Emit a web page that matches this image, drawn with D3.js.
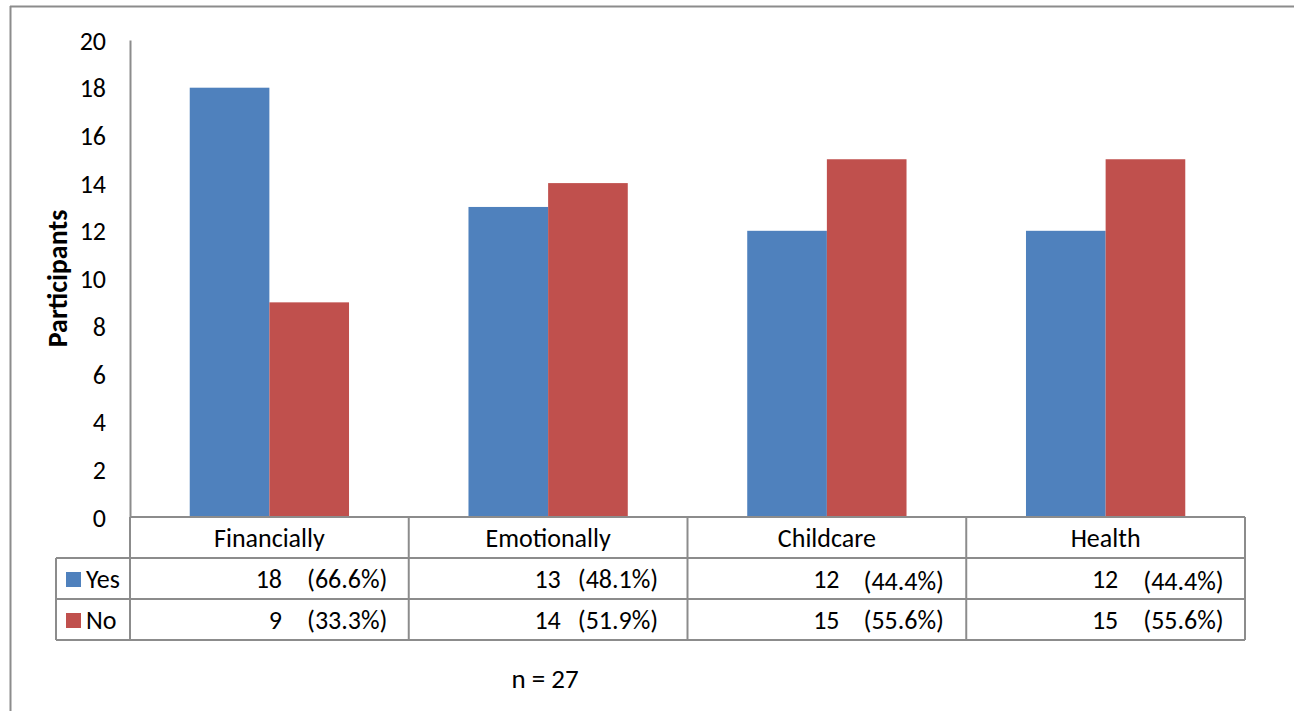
<!DOCTYPE html>
<html><head><meta charset="utf-8">
<script src="https://cdn.jsdelivr.net/npm/d3@7"></script>
<style>body{margin:0;background:#fff}svg{display:block}text{font-family:Carlito,Lato,"Open Sans",sans-serif}</style>
</head><body><svg id="c" width="1294" height="711"></svg>
<script>
const categories = ["Financially","Emotionally","Childcare","Health"];
const seriesNames = ["Yes","No"];
const yesValues = [18,13,12,12];
const noValues = [9,14,15,15];
const yesPct = ["(66.6%)","(48.1%)","(44.4%)","(44.4%)"];
const noPct = ["(33.3%)","(51.9%)","(55.6%)","(55.6%)"];
const yTicks = [0,2,4,6,8,10,12,14,16,18,20];
const colors = ["#4F81BD","#C0504D"];
const pctGap = [25,17,24,25];

const FS = 26;
const svg = d3.select("#c");
const grey = "#8c8c8c";
const L = 130, R = 1245, T = 40, B = 517;
const rowH = 41;

// outer frame
svg.append("line").attr("x1",10.5).attr("x2",10.5).attr("y1",6).attr("y2",711).attr("stroke",grey).attr("stroke-width",2);
svg.append("line").attr("x1",10).attr("x2",1294).attr("y1",6.5).attr("y2",6.5).attr("stroke",grey).attr("stroke-width",2);

const x = d3.scaleBand().domain(categories).range([L,R]).paddingInner(0).paddingOuter(0);
const y = d3.scaleLinear().domain([0,20]).range([B,T]);
const xs = d3.scaleBand().domain(seriesNames).range([0,x.bandwidth()]).paddingInner(0).paddingOuter(0.75);

const series = [yesValues,noValues];
series.forEach((vals,si)=>{
  svg.append("g").selectAll("rect").data(categories).join("rect")
    .attr("x",c=>x(c)+xs(seriesNames[si]))
    .attr("width",xs.bandwidth())
    .attr("y",(c,i)=>y(vals[i]))
    .attr("height",(c,i)=>B-y(vals[i]))
    .attr("fill",colors[si]);
});

// y axis
const yAxis = d3.axisLeft(y).tickValues(yTicks).tickSize(0).tickPadding(24);
const ga = svg.append("g").attr("transform",`translate(${L},0)`).call(yAxis);
ga.select(".domain").attr("stroke",grey).attr("stroke-width",2);
ga.selectAll("text").attr("font-size",FS).attr("fill","#000").attr("dy","0.35em").style("font-family","Carlito,Lato,sans-serif");

svg.append("text").attr("transform",`translate(67,${(T+B)/2}) rotate(-90)`)
  .attr("text-anchor","middle").attr("font-size",28).attr("font-weight","bold").text("Participants");

// table
const tb = svg.append("g").attr("stroke",grey).attr("stroke-width",2).attr("fill","none");
tb.append("line").attr("x1",L).attr("x2",R).attr("y1",B).attr("y2",B);
tb.append("line").attr("x1",56).attr("x2",R).attr("y1",B+rowH).attr("y2",B+rowH);
tb.append("line").attr("x1",56).attr("x2",R).attr("y1",B+2*rowH).attr("y2",B+2*rowH);
tb.append("line").attr("x1",56).attr("x2",R).attr("y1",B+3*rowH).attr("y2",B+3*rowH);
tb.append("line").attr("x1",56).attr("x2",56).attr("y1",B+rowH).attr("y2",B+3*rowH);
categories.forEach(c=>{
  tb.append("line").attr("x1",x(c)).attr("x2",x(c)).attr("y1",B).attr("y2",B+3*rowH);
});
tb.append("line").attr("x1",R).attr("x2",R).attr("y1",B).attr("y2",B+3*rowH);

// category labels
svg.append("g").selectAll("text").data(categories).join("text")
  .attr("x",c=>x(c)+x.bandwidth()/2).attr("y",B+rowH/2+9)
  .attr("text-anchor","middle").attr("font-size",FS).text(c=>c);

// legend cells
seriesNames.forEach((s,si)=>{
  const yy = B+rowH*(si+1);
  svg.append("rect").attr("x",66).attr("y",yy+14).attr("width",15).attr("height",15).attr("fill",colors[si]);
  svg.append("text").attr("x",86).attr("y",yy+rowH/2+9).attr("font-size",FS).text(s);
});

// values
const pcts = [yesPct,noPct];
series.forEach((vals,si)=>{
  const yy = B+rowH*(si+1)+rowH/2+9;
  categories.forEach((c,i)=>{
    svg.append("text").attr("x",x(c)+152).attr("y",yy).attr("text-anchor","end").attr("font-size",FS).text(vals[i]);
    svg.append("text").attr("x",x(c)+152+pctGap[i]).attr("y",yy+(si===0&&i>=2?2:0)).attr("font-size",FS).text(pcts[si][i]);
  });
});

svg.append("text").attr("x",545).attr("y",688).attr("text-anchor","middle").attr("font-size",27).text("n = 27");
</script></body></html>
